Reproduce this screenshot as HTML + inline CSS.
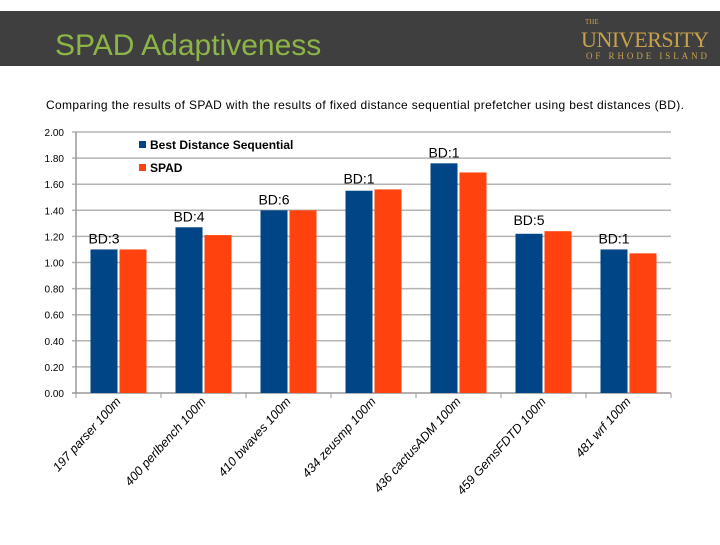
<!DOCTYPE html>
<html><head><meta charset="utf-8"><style>
body{margin:0;background:#fff;width:720px;height:540px;overflow:hidden;font-family:"Liberation Sans",sans-serif}
</style></head><body>
<svg width="720" height="540" xmlns="http://www.w3.org/2000/svg">
<rect x="0" y="11" width="720" height="55" fill="#3f3f3f"/>
<text x="55" y="55" font-size="30" fill="#8db545" font-family="Liberation Sans, sans-serif">SPAD Adaptiveness</text>
<text x="585" y="24" font-size="7" fill="#c8a24a" font-family="Liberation Serif, serif">THE</text>
<text x="581" y="47" font-size="22" fill="#c8a24a" font-family="Liberation Serif, serif" textLength="128">UNIVERSITY</text>
<text x="586" y="59" font-size="9" fill="#c8a24a" font-family="Liberation Serif, serif" textLength="121">OF RHODE ISLAND</text>
<text x="365" y="109" font-size="12" fill="#000" text-anchor="middle" textLength="638" font-family="Liberation Sans Narrow, Liberation Sans, sans-serif">Comparing the results of SPAD with the results of fixed distance sequential prefetcher using best distances (BD).</text>
<g id="chart"></g>
</svg>
<script>
const categories=["197 parser 100m","400 perlbench 100m","410 bwaves 100m","434 zeusmp 100m","436 cactusADM 100m","459 GemsFDTD 100m","481 wrf 100m"];
const bestDistance=[1.10,1.27,1.40,1.55,1.76,1.22,1.10];
const spad=[1.10,1.21,1.40,1.56,1.69,1.24,1.07];
const bdLabels=["BD:3","BD:4","BD:6","BD:1","BD:1","BD:5","BD:1"];
const yTicks=[0,0.2,0.4,0.6,0.8,1.0,1.2,1.4,1.6,1.8,2.0];
const NS="http://www.w3.org/2000/svg";
const g=document.getElementById('chart');
const L=76,R=671,T=132,B=393,yMax=2;
const y=v=>B-(v/yMax)*(B-T);
const gw=(R-L)/categories.length;
const x=i=>L+i*gw;
function mk(t,a,p){const e=document.createElementNS(NS,t);for(const k in a)e.setAttribute(k,a[k]);(p||g).appendChild(e);return e;}
yTicks.forEach(v=>{
 const l=mk('line',{x1:L-4,x2:R,y1:y(v),y2:y(v),stroke:v===0?'#999':'#b3b3b3','stroke-width':1.5});
 
 
 const t=mk('text',{x:L-12,y:y(v)+4,'font-size':10,'text-anchor':'end',fill:'#000'});
 t.textContent=v.toFixed(2);
 
 
});
const ax=mk('line',{x1:L,x2:L,y1:T,y2:B,stroke:'#999','stroke-width':1.5});


const bw=27;
categories.forEach((c,i)=>{
 const cx=x(i)+gw/2;
 const tk=mk('line',{x1:x(i),x2:x(i),y1:B,y2:B+5,stroke:'#999'});
 
 
 const b1=mk('rect',{x:cx-bw-1,y:y(bestDistance[i]),width:bw,height:B-y(bestDistance[i]),fill:'#004586'});
 
 
 const b2=mk('rect',{x:cx+1,y:y(spad[i]),width:bw,height:B-y(spad[i]),fill:'#ff420e'});
 
 
 const bl=mk('text',{x:cx-bw/2-1,y:y(Math.max(bestDistance[i],spad[i]))-6,'font-size':14,'text-anchor':'middle',fill:'#000'});
 bl.textContent=bdLabels[i];
 
 
 const xl=mk('text',{transform:`translate(${cx+3},${B+9}) rotate(-48)`,'font-size':12.5,'text-anchor':'end','font-style':'italic',fill:'#000'});
 xl.textContent=c;
 
 
});
const tk=mk('line',{x1:R,x2:R,y1:B,y2:B+5,stroke:'#999'});


[["Best Distance Sequential",'#004586',148],["SPAD",'#ff420e',171]].forEach(([n,col,yy])=>{
 const r=mk('rect',{x:139,y:yy-7,width:7,height:7,fill:col});
 
 
 const t=mk('text',{x:150,y:yy+1,'font-size':12,'font-weight':'bold',fill:'#000'});
 t.textContent=n;
 
 
});
</script>
</body></html>
